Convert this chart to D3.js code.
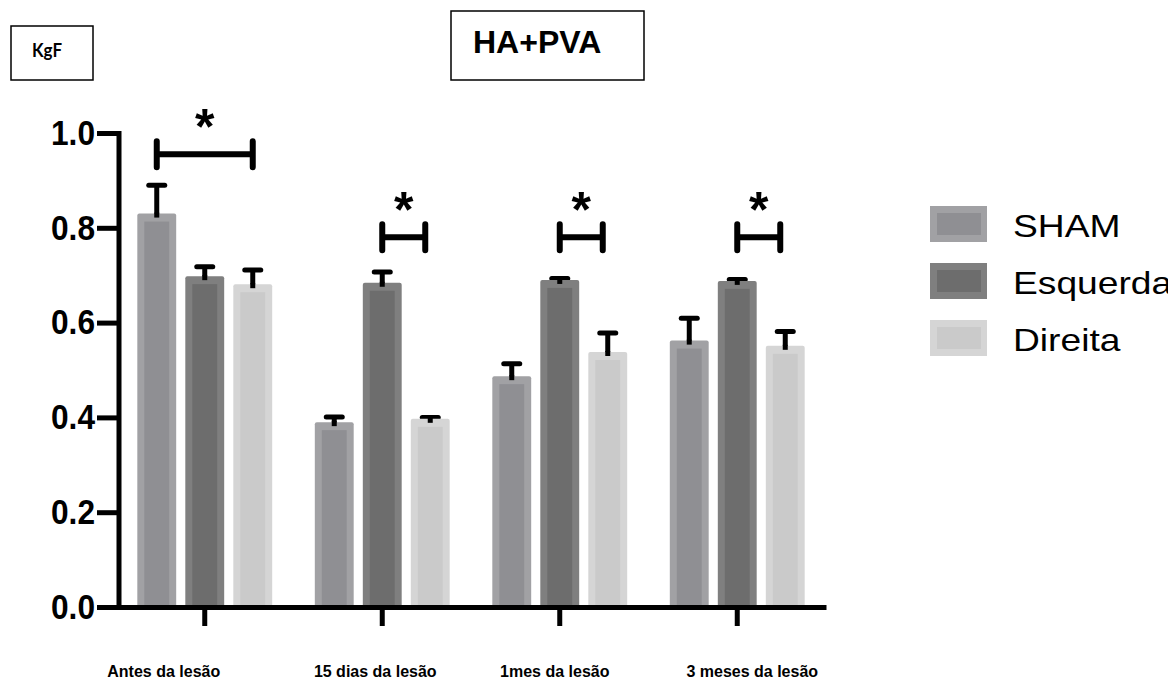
<!DOCTYPE html>
<html>
<head>
<meta charset="utf-8">
<script src="https://cdn.jsdelivr.net/npm/d3@7"></script>
<style>
  body { margin: 0; background: #fff; }
  svg { display: block; font-family: "Liberation Sans", Arial, sans-serif; }
</style>
</head>
<body>
<div id="chart"></div>
<script>
// data
const groups = [`Antes da lesão`, `15 dias da lesão`, `1mes da lesão`, `3 meses da lesão`];
const series = [`SHAM`, `Esquerda`, `Direita`];
const shamMean = [0.83, 0.39, 0.487, 0.562];
const shamErr = [0.06, 0.011, 0.026, 0.047];
const esqMean = [0.698, 0.684, 0.69, 0.688];
const esqErr = [0.02, 0.023, 0.003, 0.003];
const dirMean = [0.681, 0.397, 0.538, 0.551];
const dirErr = [0.03, 0.003, 0.04, 0.03];
const yTicks = [0, 0.2, 0.4, 0.6, 0.8, 1.0];
const brackets = [
  { group: 0, from: `SHAM`, to: `Direita`, level: 0.955 },
  { group: 1, from: `Esquerda`, to: `Direita`, level: 0.78 },
  { group: 2, from: `Esquerda`, to: `Direita`, level: 0.78 },
  { group: 3, from: `Esquerda`, to: `Direita`, level: 0.78 }
];

const width = 1168;
const height = 681;
const fill = { SHAM: `#a1a1a4`, Esquerda: `#7f7f7f`, Direita: `#d5d5d5` };
const inner = { SHAM: `#8f8f93`, Esquerda: `#6d6d6d`, Direita: `#cacaca` };
const labelShift = [-41, -7, -5, 15];

const means = { SHAM: shamMean, Esquerda: esqMean, Direita: dirMean };
const errs = { SHAM: shamErr, Esquerda: esqErr, Direita: dirErr };

const svg = d3.select(`#chart`).append(`svg`)
  .attr(`width`, width)
  .attr(`height`, height);

const x0 = d3.scaleBand().domain(groups).range([116, 826]);
const x1 = d3.scaleBand().domain(series).range([-72, 72])
  .paddingInner(0.19).paddingOuter(0.095);
const y = d3.scaleLinear().domain([0, 1]).range([607, 133]);

const center = (g, s) => x0(g) + x0.bandwidth() / 2 + x1(s) + x1.bandwidth() / 2;

// bars
const rows = [];
groups.forEach((g, i) => series.forEach((s) => rows.push({ g, s, v: means[s][i], e: errs[s][i] })));

const bw = x1.bandwidth();
const barG = svg.append(`g`);

// error bars, upper half only
barG.selectAll(`.err`)
  .data(rows)
  .enter().append(`g`)
  .each(function (d) {
    const cx = center(d.g, d.s);
    const g = d3.select(this);
    g.append(`line`)
      .attr(`x1`, cx).attr(`x2`, cx)
      .attr(`y1`, y(d.v) + 4).attr(`y2`, y(d.v + d.e))
      .attr(`stroke`, `#000`).attr(`stroke-width`, 5);
    g.append(`line`)
      .attr(`x1`, cx - 8).attr(`x2`, cx + 8)
      .attr(`y1`, y(d.v + d.e)).attr(`y2`, y(d.v + d.e))
      .attr(`stroke`, `#000`).attr(`stroke-width`, 5)
      .attr(`stroke-linecap`, `round`);
  });

barG.selectAll(`.bar`)
  .data(rows)
  .enter().append(`rect`)
  .attr(`x`, (d) => center(d.g, d.s) - bw / 2)
  .attr(`y`, (d) => y(d.v))
  .attr(`width`, bw)
  .attr(`height`, (d) => y(0) - y(d.v))
  .attr(`rx`, 2)
  .attr(`fill`, (d) => fill[d.s]);

barG.selectAll(`.inner`)
  .data(rows)
  .enter().append(`rect`)
  .attr(`x`, (d) => center(d.g, d.s) - bw / 2 + 7)
  .attr(`y`, (d) => y(d.v) + 8)
  .attr(`width`, bw - 14)
  .attr(`height`, (d) => y(0) - y(d.v) - 8)
  .attr(`fill`, (d) => inner[d.s]);

// stems poke into the bar top
barG.selectAll(`.stem`)
  .data(rows)
  .enter().append(`line`)
  .attr(`x1`, (d) => center(d.g, d.s)).attr(`x2`, (d) => center(d.g, d.s))
  .attr(`y1`, (d) => y(d.v) + 4).attr(`y2`, (d) => y(d.v) - 1)
  .attr(`stroke`, `#000`).attr(`stroke-width`, 5);

// axes
const yAxis = svg.append(`g`)
  .attr(`transform`, `translate(119,0)`)
  .call(d3.axisLeft(y).tickValues(yTicks).tickFormat(d3.format(`.1f`)).tickSize(22).tickSizeOuter(0).tickPadding(2));
yAxis.select(`.domain`).attr(`d`, `M0,${y(0) + 2}V131`).attr(`stroke-width`, 5);
yAxis.selectAll(`.tick line`).attr(`stroke-width`, 5);
yAxis.selectAll(`.tick text`)
  .attr(`font-size`, 35).attr(`font-weight`, `bold`)
  .attr(`font-family`, `"Liberation Sans", Arial, sans-serif`)
  .attr(`textLength`, 44)
  .attr(`lengthAdjust`, `spacingAndGlyphs`)
  .attr(`fill`, `#000`);

const xAxis = svg.append(`g`)
  .attr(`transform`, `translate(0,${y(0)})`)
  .call(d3.axisBottom(x0).tickSize(19).tickSizeOuter(0).tickFormat(``));
xAxis.select(`.domain`).attr(`stroke-width`, 5);
xAxis.selectAll(`.tick line`).attr(`stroke-width`, 5);

svg.append(`g`).selectAll(`text`)
  .data(groups)
  .enter().append(`text`)
  .attr(`x`, (d, i) => x0(d) + x0.bandwidth() / 2 + labelShift[i])
  .attr(`y`, 677)
  .attr(`text-anchor`, `middle`)
  .attr(`font-size`, 16)
  .attr(`font-weight`, `bold`)
  .text((d) => d);

// significance brackets
const br = svg.append(`g`).selectAll(`g`)
  .data(brackets)
  .enter().append(`g`);
br.append(`path`)
  .attr(`d`, (d) => {
    const g = groups[d.group];
    const a = center(g, d.from);
    const b = center(g, d.to) - (d.group ? 5 : 0);
    const yy = y(d.level);
    return `M${a},${yy - 13}V${yy + 13}M${a},${yy}H${b}M${b},${yy - 13}V${yy + 13}`;
  })
  .attr(`fill`, `none`)
  .attr(`stroke`, `#000`)
  .attr(`stroke-width`, 6)
  .attr(`stroke-linecap`, `round`);
br.append(`text`)
  .attr(`x`, (d) => {
    const g = groups[d.group];
    return (center(g, d.from) + center(g, d.to) - (d.group ? 5 : 0)) / 2;
  })
  .attr(`y`, (d) => y(d.level) - 10)
  .attr(`text-anchor`, `middle`)
  .attr(`font-size`, 50)
  .attr(`font-weight`, `bold`)
  .text(`*`);

// legend
const legend = svg.append(`g`).selectAll(`g`)
  .data(series)
  .enter().append(`g`)
  .attr(`transform`, (d, i) => `translate(930,${206 + i * 57})`);
legend.append(`rect`)
  .attr(`width`, 57).attr(`height`, 36)
  .attr(`fill`, (d) => fill[d]);
legend.append(`rect`)
  .attr(`x`, 7).attr(`y`, 7)
  .attr(`width`, 44).attr(`height`, 22)
  .attr(`fill`, (d) => inner[d]);
legend.append(`text`)
  .attr(`transform`, `translate(83,31) scale(1.2,1)`)
  .attr(`font-size`, 31)
  .text((d) => d);

// boxes
svg.append(`rect`)
  .attr(`x`, 11).attr(`y`, 26).attr(`width`, 82).attr(`height`, 54)
  .attr(`fill`, `none`).attr(`stroke`, `#000`).attr(`stroke-width`, 1.5);
svg.append(`text`)
  .attr(`x`, 32).attr(`y`, 57)
  .attr(`font-family`, `Lato, "Open Sans", sans-serif`)
  .attr(`font-size`, 19)
  .attr(`font-weight`, `bold`)
  .attr(`textLength`, 30)
  .attr(`lengthAdjust`, `spacingAndGlyphs`)
  .text(`KgF`);

svg.append(`rect`)
  .attr(`x`, 451).attr(`y`, 11).attr(`width`, 193).attr(`height`, 69)
  .attr(`fill`, `none`).attr(`stroke`, `#000`).attr(`stroke-width`, 1.5);
svg.append(`text`)
  .attr(`x`, 473).attr(`y`, 53)
  .attr(`font-size`, 32)
  .attr(`font-weight`, `bold`)
  .text(`HA+PVA`);
</script>
</body>
</html>
